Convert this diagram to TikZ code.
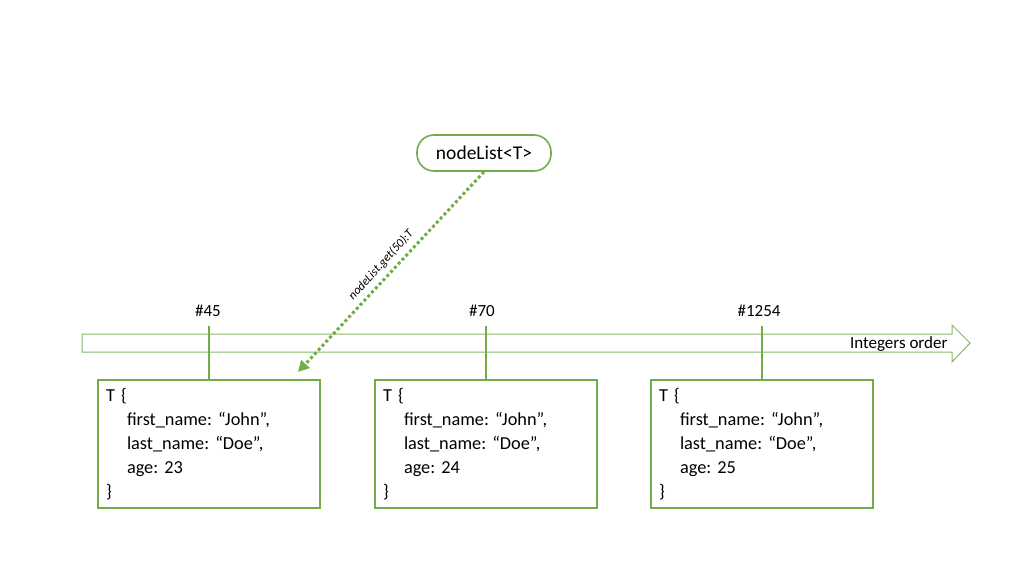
\documentclass[tikz,border=0pt]{standalone}
\usepackage{fontspec}
\setmainfont{Carlito}
\usetikzlibrary{arrows.meta}
\definecolor{og}{HTML}{70AD47}
\frenchspacing
\tikzset{
  tbox/.style={draw=og, line width=1.6pt, minimum width=222pt, minimum height=126pt,
    text width=206pt, align=left, font=\fontsize{18.3}{24}\selectfont, inner sep=8pt},
  tick/.style={draw=og, line width=2.8pt},
  lbl/.style={font=\fontsize{17}{20}\selectfont},
  pill/.style={draw=og, line width=1.6pt, rounded corners=17pt, minimum width=134pt, minimum height=36pt, font=\fontsize{19.5}{22}\selectfont},
  getarrow/.style={draw=og, line width=3pt, dash pattern=on 3pt off 2.6pt, -{Triangle[length=11pt,width=11pt]}}
}
\newcommand{\ind}{\hspace*{21pt}}
\begin{document}
\begin{tikzpicture}[x=1pt,y=-1pt]
\useasboundingbox (0,0) rectangle (1024,576);
% integers order arrow
\draw[og!85, line width=1pt] (82,334) -- (952,334) -- (952,325) -- (970,343) -- (952,362) -- (952,352) -- (82,352) -- cycle;
\node[lbl, anchor=east] (io) at (951,344) {Integers order};
% boxes
\node[tbox] (b1) at (209,444) {T \{\\ \ind first\_name: “John”,\\ \ind last\_name: “Doe”,\\ \ind age: 23\\ \}};
\node[tbox] (b2) at (486,444) {T \{\\ \ind first\_name: “John”,\\ \ind last\_name: “Doe”,\\ \ind age: 24\\ \}};
\node[tbox] (b3) at (762,444) {T \{\\ \ind first\_name: “John”,\\ \ind last\_name: “Doe”,\\ \ind age: 25\\ \}};
% ticks
\coordinate (t1) at (209,326);
\coordinate (t2) at (486,326);
\coordinate (t3) at (762,326);
\draw[tick] (t1) -- (b1.north);
\draw[tick] (t2) -- (b2.north);
\draw[tick] (t3) -- (b3.north);
\node[lbl] (n1) at (208,311) {\#45};
\node[lbl] (n2) at (482,311) {\#70};
\node[lbl] (n3) at (759,311) {\#1254};
% nodeList
\node[pill] (nl) at (484,153) {nodeList<T>};
\coordinate (e) at (298,372);
\draw[getarrow] (nl.south) -- (e);
\node[font=\itshape\fontsize{12.2}{14}\selectfont, rotate=47.5] (gl) at (381,265) {nodeList.get(50):T};
\end{tikzpicture}
\end{document}
